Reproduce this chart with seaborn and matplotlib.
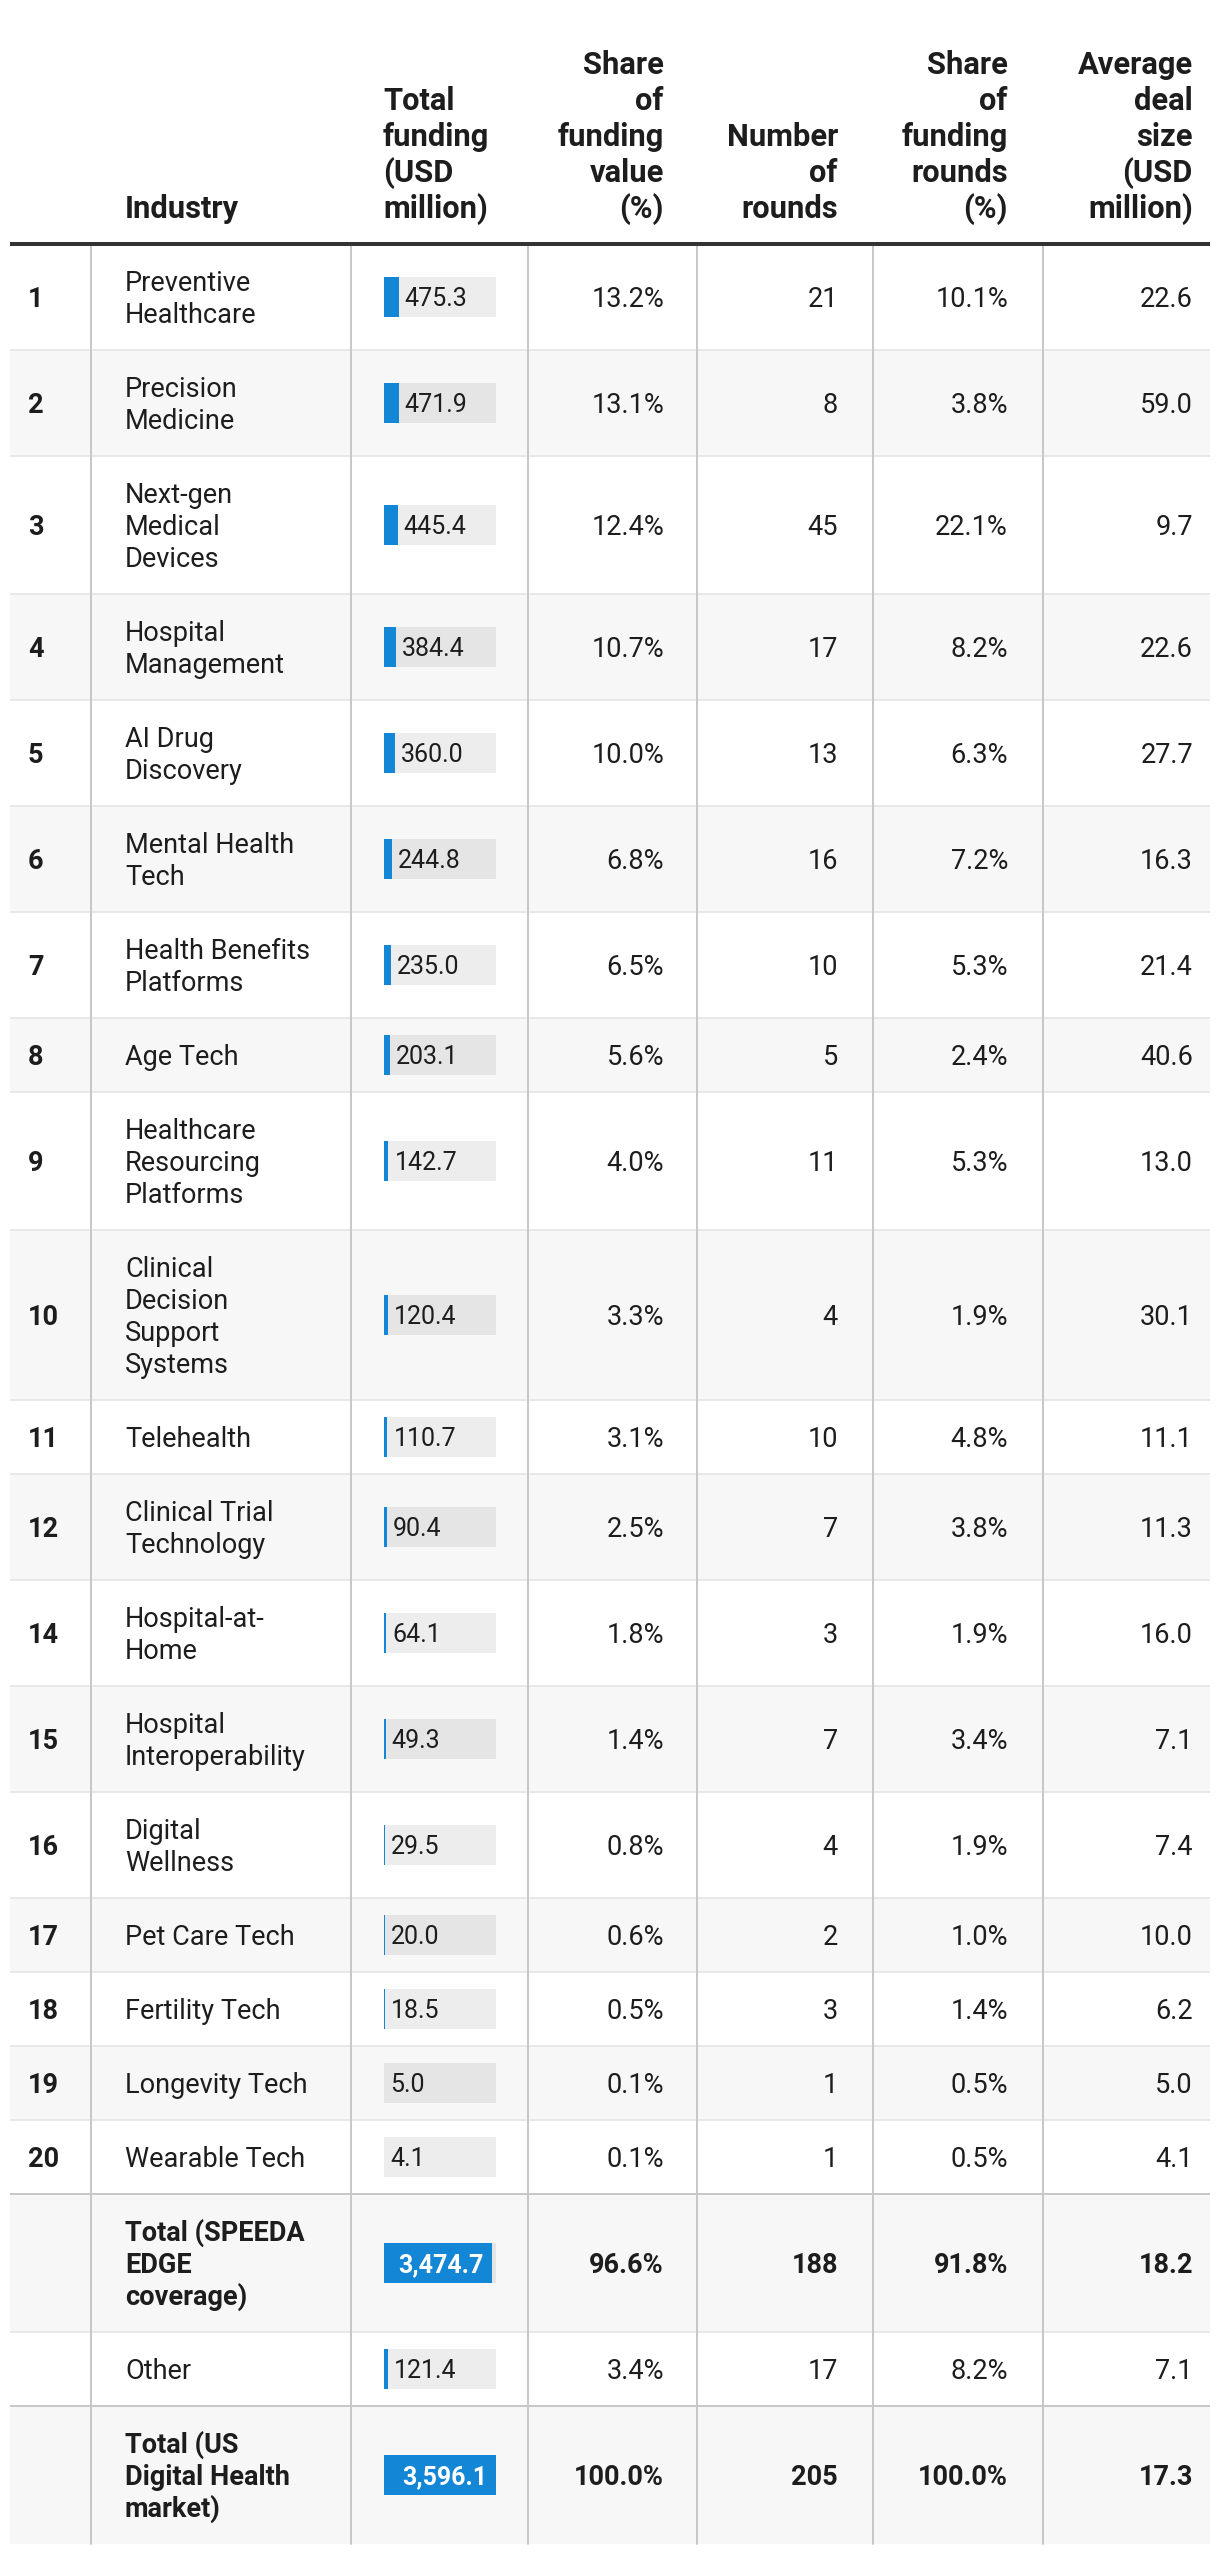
import matplotlib
matplotlib.use("Agg")
import matplotlib.pyplot as plt
import seaborn as sns
from matplotlib.patches import Rectangle

# table data
ranks = ["1", "2", "3", "4", "5", "6", "7", "8", "9", "10", "11", "12", "14",
         "15", "16", "17", "18", "19", "20", "", "", ""]
industries = [
    "Preventive\nHealthcare", "Precision\nMedicine", "Next-gen\nMedical\nDevices",
    "Hospital\nManagement", "AI Drug\nDiscovery", "Mental Health\nTech",
    "Health Benefits\nPlatforms", "Age Tech", "Healthcare\nResourcing\nPlatforms",
    "Clinical\nDecision\nSupport\nSystems", "Telehealth", "Clinical Trial\nTechnology",
    "Hospital-at-\nHome", "Hospital\nInteroperability", "Digital\nWellness",
    "Pet Care Tech", "Fertility Tech", "Longevity Tech", "Wearable Tech",
    "Total (SPEEDA\nEDGE\ncoverage)", "Other", "Total (US\nDigital Health\nmarket)",
]
funding = [475.3, 471.9, 445.4, 384.4, 360.0, 244.8, 235.0, 203.1, 142.7, 120.4,
           110.7, 90.4, 64.1, 49.3, 29.5, 20.0, 18.5, 5.0, 4.1, 3474.7, 121.4, 3596.1]
share_value = [13.2, 13.1, 12.4, 10.7, 10.0, 6.8, 6.5, 5.6, 4.0, 3.3, 3.1, 2.5, 1.8,
               1.4, 0.8, 0.6, 0.5, 0.1, 0.1, 96.6, 3.4, 100.0]
rounds = [21, 8, 45, 17, 13, 16, 10, 5, 11, 4, 10, 7, 3, 7, 4, 2, 3, 1, 1, 188, 17, 205]
share_rounds = [10.1, 3.8, 22.1, 8.2, 6.3, 7.2, 5.3, 2.4, 5.3, 1.9, 4.8, 3.8, 1.9,
                3.4, 1.9, 1.0, 1.4, 0.5, 0.5, 91.8, 8.2, 100.0]
avg_deal = [22.6, 59.0, 9.7, 22.6, 27.7, 16.3, 21.4, 40.6, 13.0, 30.1, 11.1, 11.3,
            16.0, 7.1, 7.4, 10.0, 6.2, 5.0, 4.1, 18.2, 7.1, 17.3]
bold_rows = [19, 21]

headers = [
    (["Industry"], 125, "left"),
    (["Total", "funding", "(USD", "million)"], 383, "left"),
    (["Share", "of", "funding", "value", "(%)"], 664, "right"),
    (["Number", "of", "rounds"], 838, "right"),
    (["Share", "of", "funding", "rounds", "(%)"], 1008, "right"),
    (["Average", "deal", "size", "(USD", "million)"], 1193, "right"),
]

sns.set_theme(style="white")
plt.rcParams["font.family"] = ["Roboto", "DejaVu Sans"]

W, H = 1220, 2554
BLUE = "#1386d6"
TXT = "#1d1d1d"
GRID = "#c8c8c8"
SEP = "#e8e8e8"
PX = 0.72  # points per pixel at dpi 100

fig = plt.figure(figsize=(W / 100, H / 100), dpi=100)
ax = fig.add_axes([0, 0, 1, 1])
ax.set_xlim(0, W)
ax.set_ylim(H, 0)
ax.set_axis_off()

left, right = 10, 1210
head_y = 244
body_fs = 19.5
head_fs = 22.2
bar_fs = 18

# header
for lines, x, ha in headers:
    n = len(lines)
    for i, ln in enumerate(lines):
        ax.text(x, 218 - (n - 1 - i) * 36, ln, ha=ha, va="baseline",
                fontsize=head_fs, fontweight="bold", color=TXT)

# rows
y = head_y
tops = []
for i in range(len(ranks)):
    lines = industries[i].split("\n")
    h = 42 + 32 * len(lines)
    tops.append((y, h))
    if i % 2 == 1:
        ax.add_patch(Rectangle((left, y), right - left, h, color="#f7f7f7", lw=0, zorder=0))
    y += h
bottom = y

for i, (top, h) in enumerate(tops):
    c = top + h / 2
    bold = i in bold_rows
    fw = "bold" if bold else "normal"
    if i > 0:
        col = GRID if i in bold_rows else SEP
        ax.plot([left, right], [top, top], color=col, lw=2 * PX, zorder=1,
                solid_capstyle="butt")
    base = c + 9.6
    ax.text(28, base, ranks[i], ha="left", va="baseline", fontsize=body_fs,
            fontweight="bold", color=TXT)
    lines = industries[i].split("\n")
    n = len(lines)
    for k, ln in enumerate(lines):
        ax.text(125, base + (k - (n - 1) / 2) * 32, ln, ha="left", va="baseline",
                fontsize=body_fs, fontweight=fw, color=TXT)
    vals = [f"{share_value[i]:.1f}%", f"{rounds[i]}", f"{share_rounds[i]:.1f}%",
            f"{avg_deal[i]:.1f}"]
    for v, x in zip(vals, [664, 838, 1008, 1193]):
        ax.text(x, base, v, ha="right", va="baseline", fontsize=body_fs,
                fontweight=fw, color=TXT)

    # bar cell
    bx0, bx1 = 384, 496
    bax = fig.add_axes([bx0 / W, 1 - (c + 20) / H, (bx1 - bx0) / W, 40 / H])
    sns.barplot(x=[funding[i]], y=["v"], orient="h", color=BLUE, saturation=1,
                width=1, linewidth=0, ax=bax)
    bax.set_xlim(0, max(funding))
    bax.set_ylim(0.5, -0.5)
    bax.set_facecolor((0, 0, 0, 0.07))
    bax.set_xticks([])
    bax.set_yticks([])
    bax.set_xlabel("")
    bax.set_ylabel("")
    for s in bax.spines.values():
        s.set_visible(False)
    if bold:
        bax.annotate(f"{funding[i]:,.1f}", xy=(funding[i], 0), xytext=(-9 * PX, -6.3),
                     textcoords="offset points", ha="right", va="baseline",
                     fontsize=bar_fs, fontweight="bold", color="white")
    else:
        bax.annotate(f"{funding[i]:,.1f}", xy=(funding[i], 0), xytext=(6 * PX, -6.3),
                     textcoords="offset points", ha="left", va="baseline",
                     fontsize=bar_fs, color=TXT)

# vertical grid lines
for x in [91, 351, 528, 697, 873, 1043]:
    ax.plot([x, x], [head_y + 2, bottom], color=GRID, lw=2 * PX, zorder=1)

# header rule
ax.plot([left, right], [head_y, head_y], color="#333333", lw=4 * PX, zorder=2,
        solid_capstyle="butt")

fig.savefig("out.png", dpi=100, facecolor="white")
